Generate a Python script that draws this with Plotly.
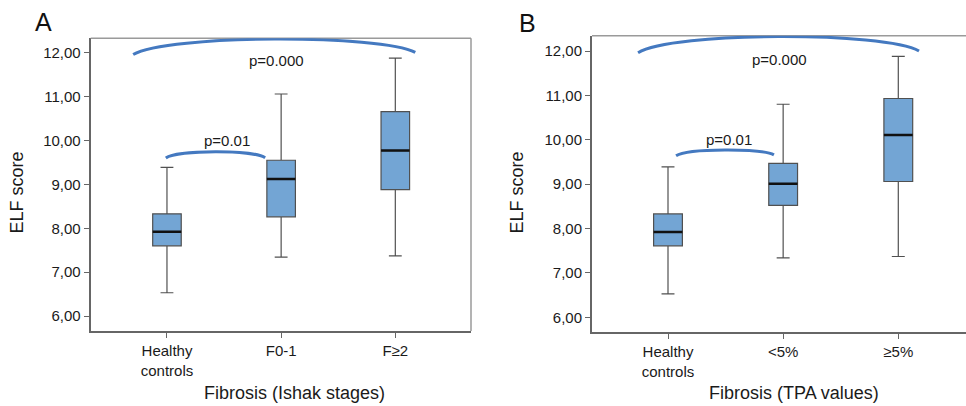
import plotly.graph_objects as go

# ---------------- data ----------------
cats_a = ["Healthy<br>controls", "F0-1", "F≥2"]
cats_b = ["Healthy<br>controls", "<5%", "≥5%"]

# Panel A (Ishak stages)
a_low = [6.53, 7.34, 7.37]
a_q1 = [7.60, 8.26, 8.88]
a_med = [7.92, 9.12, 9.77]
a_q3 = [8.33, 9.55, 10.66]
a_high = [9.39, 11.06, 11.88]

# Panel B (TPA values)
b_low = [6.53, 7.34, 7.37]
b_q1 = [7.61, 8.52, 9.06]
b_med = [7.92, 9.01, 10.11]
b_q3 = [8.33, 9.47, 10.93]
b_high = [9.39, 10.80, 11.88]

y_ticks = [6, 7, 8, 9, 10, 11, 12]
y_ticktext = ["6,00", "7,00", "8,00", "9,00", "10,00", "11,00", "12,00"]

p_texts = ["p=0.000", "p=0.01"]

# ---------------- figure ----------------
W, H = 966, 406
FONT = "Liberation Sans, Arial, Helvetica, sans-serif"
BOX_FILL = "#73a5d4"
BOX_LINE = "#505050"
ARC = "#4479c0"
BW = 0.25

fig = go.Figure()

def add_panel(low, q1, med, q3, high, xa, ya):
    xs = list(range(len(med)))
    fig.add_trace(go.Box(
        x=xs, q1=q1, median=med, q3=q3, lowerfence=low, upperfence=high,
        width=BW, whiskerwidth=0.45, fillcolor=BOX_FILL,
        line=dict(color=BOX_LINE, width=1.2), boxpoints=False,
        xaxis=xa, yaxis=ya, showlegend=False, hoverinfo="skip"))
    mx, my = [], []
    for i, m in enumerate(med):
        mx += [i - BW / 2, i + BW / 2, None]
        my += [m, m, None]
    fig.add_trace(go.Scatter(x=mx, y=my, mode="lines",
                             line=dict(color="#111111", width=2.5),
                             xaxis=xa, yaxis=ya, showlegend=False, hoverinfo="skip"))

add_panel(a_low, a_q1, a_med, a_q3, a_high, "x", "y")
add_panel(b_low, b_q1, b_med, b_q3, b_high, "x2", "y2")

axis_common = dict(showgrid=False, zeroline=False, ticks="outside", ticklen=5,
                   tickcolor="#666666", tickwidth=1.2,
                   showline=True, linecolor="#666666", linewidth=2,
                   tickfont=dict(family=FONT, size=15, color="#1a1a1a"))

fig.update_layout(
    width=W, height=H, margin=dict(l=0, r=0, t=0, b=0),
    paper_bgcolor="white", plot_bgcolor="white",
    xaxis=dict(domain=[90.7 / W, 471 / W], range=[-0.668, 2.663],
               tickvals=[0, 1, 2], ticktext=cats_a, anchor="y", **axis_common),
    yaxis=dict(domain=[1 - 331 / H, 1 - 38.3 / H], range=[5.658, 12.33],
               tickvals=y_ticks, ticktext=y_ticktext, anchor="x", **axis_common),
    xaxis2=dict(domain=[592 / W, 1.0], range=[-0.66, 2.588],
                tickvals=[0, 1, 2], ticktext=cats_b, anchor="y2", **axis_common),
    yaxis2=dict(domain=[1 - 332.3 / H, 1 - 35.7 / H], range=[5.662, 12.345],
                tickvals=y_ticks, ticktext=y_ticktext, anchor="x2", **axis_common),
)

# frame (top / right) lines, lighter gray
frame = dict(color="#9a9a9a", width=1.5)
fig.add_shape(type="line", xref="x domain", yref="y domain", x0=0, x1=1, y0=1, y1=1, line=frame)
fig.add_shape(type="line", xref="x domain", yref="y domain", x0=1, x1=1, y0=0, y1=1, line=frame)
fig.add_shape(type="line", xref="x2 domain", yref="y2 domain", x0=0, x1=1, y0=1, y1=1, line=frame)

def arc(xr, yr, x0, y0, x1, y1, h):
    span = x1 - x0
    c1x = x0 + 0.12 * span
    c2x = x1 - 0.12 * span
    path = f"M {x0},{y0} C {c1x},{h} {c2x},{h} {x1},{y1}"
    fig.add_shape(type="path", path=path, xref=xr, yref=yr,
                  line=dict(color=ARC, width=3), layer="above")

# Panel A arcs
arc("x", "y", -0.296, 11.96, 2.175, 12.01, 12.42)
arc("x", "y", -0.01, 9.60, 0.86, 9.61, 9.79)
# Panel B arcs
arc("x2", "y2", -0.26, 11.96, 2.18, 12.0, 12.44)
arc("x2", "y2", 0.07, 9.64, 0.92, 9.66, 9.81)

def ann(x, y, text, font, xref="paper", yref="paper", angle=0):
    fig.add_annotation(x=x, y=y, xref=xref, yref=yref, text=text, showarrow=False,
                       font=font, xanchor="center", yanchor="middle", textangle=angle)

ann_font = dict(family=FONT, size=15, color="#1a1a1a")
ann(0.96, 11.83, p_texts[0], ann_font, "x", "y")
ann(0.53, 10.01, p_texts[1], ann_font, "x", "y")
ann(0.97, 11.80, p_texts[0], ann_font, "x2", "y2")
ann(0.53, 10.01, p_texts[1], ann_font, "x2", "y2")

title_font = dict(family=FONT, size=18, color="#1a1a1a")
ann(294 / W, 1 - 393 / H, "Fibrosis (Ishak stages)", title_font)
ann(793.5 / W, 1 - 393 / H, "Fibrosis (TPA values)", title_font)
ann(16.5 / W, 1 - 193 / H, "ELF score", title_font, angle=-90)
ann(516.5 / W, 1 - 193 / H, "ELF score", title_font, angle=-90)

panel_font = dict(family=FONT, size=25, color="#111111")
ann(43.5 / W, 1 - 22.5 / H, "A", panel_font)
ann(527 / W, 1 - 23 / H, "B", panel_font)

fig.write_html("out.html", config={"displayModeBar": False},
               post_script="document.body.style.margin='0';document.body.style.padding='0';")
